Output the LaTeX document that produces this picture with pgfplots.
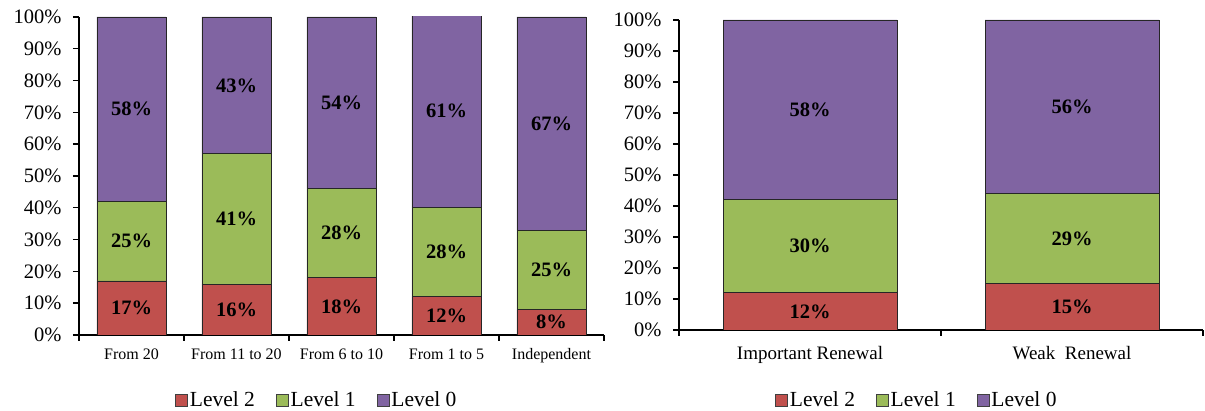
\documentclass[border=0pt]{standalone}
\usepackage{pgfplots}
\pgfplotsset{compat=1.18}
\usepackage{pgfplotstable}
\usepackage{fontspec}
\setmainfont{Liberation Serif}

\definecolor{lvltwo}{HTML}{C0504D}
\definecolor{lvlone}{HTML}{9BBB59}
\definecolor{lvlzero}{HTML}{8064A2}

% Share of each level (percent) by seniority group
\pgfplotstableread{
x l2 l1 l0
1 17 25 58
2 16 41 43
3 18 28 54
4 12 28 61
5 8  25 67
}\seniority

% Share of each level (percent) by renewal type
\pgfplotstableread{
x l2 l1 l0
1 12 30 58
2 15 29 56
}\renewal

\pgfplotsset{
  levelbars/.style={
    ybar stacked,
    scale only axis,
    enlargelimits=false,
    ymin=0, ymax=100,
    ytick={0,10,...,100},
    yticklabels={0\%,10\%,20\%,30\%,40\%,50\%,60\%,70\%,80\%,90\%,100\%},
    axis x line*=bottom, axis y line*=left,
    axis line style={-, line width=1.4pt},
    tick align=outside,
    major tick length=6pt,
    tick style={black, line width=1.4pt},
    yticklabel style={font=\fontsize{20.5}{24}\selectfont, xshift=-8pt},
    xticklabels={},
    legend style={draw=none, fill=none, legend columns=3,
      font=\fontsize{21.5}{24}\selectfont, anchor=center,
      /tikz/every even column/.append style={column sep=19pt}},
    legend image code/.code={\draw[#1, draw=black!75, line width=0.7pt] (0pt,-6pt) rectangle (12pt,6pt);},
    every node near coord/.append style={font=\bfseries\fontsize{20.5}{24}\selectfont, anchor=center},
  },
  segment/.style={draw=black!85, line width=0.8pt, fill=#1},
  seglabel/.style={
    point meta=explicit,
    nodes near coords={\pgfmathprintnumber[assume math mode=true]{\pgfplotspointmeta}\%},
  },
  % same geometry as the left panel
  leftframe/.style={
    at={(79pt,76pt)}, anchor=south west,
    width=525pt, height=318pt,
    bar width=69pt,
    xmin=0.5, xmax=5.5,
  },
}

\begin{document}
\begin{tikzpicture}
% Left panel: by seniority group (bars clipped at 100%)
\begin{axis}[levelbars, leftframe,
  xtick={0.5,1.5,...,5.5},
  extra x ticks={1,2,3,4,5},
  extra x tick labels={From 20,From 11 to 20,From 6 to 10,From 1 to 5,Independent},
  extra x tick style={major tick length=0pt, xticklabel style={font=\fontsize{16}{19}\selectfont, yshift=-10pt}},
  legend style={at={(0.453,-0.2044)}},
]
\addplot[segment=lvltwo] table[x=x, y=l2] {\seniority};
\addplot[segment=lvlone] table[x=x, y=l1] {\seniority};
\addplot[segment=lvlzero] table[x=x, y=l0] {\seniority};
\legend{Level 2, Level 1, Level 0}
\end{axis}

% Left panel: value labels of the segments
\begin{axis}[levelbars, leftframe, hide axis, clip=false]
\addplot[draw=none, fill=none, seglabel] table[x=x, y=l2, meta=l2] {\seniority};
\addplot[draw=none, fill=none, seglabel] table[x=x, y=l1, meta=l1] {\seniority};
\addplot[draw=none, fill=none, seglabel] table[x=x, y=l0, meta=l0] {\seniority};
\end{axis}

% Right panel: by renewal type
\begin{axis}[levelbars,
  at={(679pt,81pt)}, anchor=south west,
  width=524pt, height=310pt,
  bar width=174pt,
  xmin=0.5, xmax=2.5,
  xtick={0.5,1.5,2.5},
  extra x ticks={1,2},
  extra x tick labels={Important Renewal,Weak\ \ Renewal},
  extra x tick style={major tick length=0pt, xticklabel style={font=\fontsize{19}{22}\selectfont, yshift=-13pt}},
  legend style={at={(0.454,-0.2258)}},
]
\addplot[segment=lvltwo, seglabel] table[x=x, y=l2, meta=l2] {\renewal};
\addplot[segment=lvlone, seglabel] table[x=x, y=l1, meta=l1] {\renewal};
\addplot[segment=lvlzero, seglabel] table[x=x, y=l0, meta=l0] {\renewal};
\legend{Level 2, Level 1, Level 0}
\end{axis}

\pgfresetboundingbox
\path (0,0) rectangle (1205pt,411pt);
\end{tikzpicture}
\end{document}
